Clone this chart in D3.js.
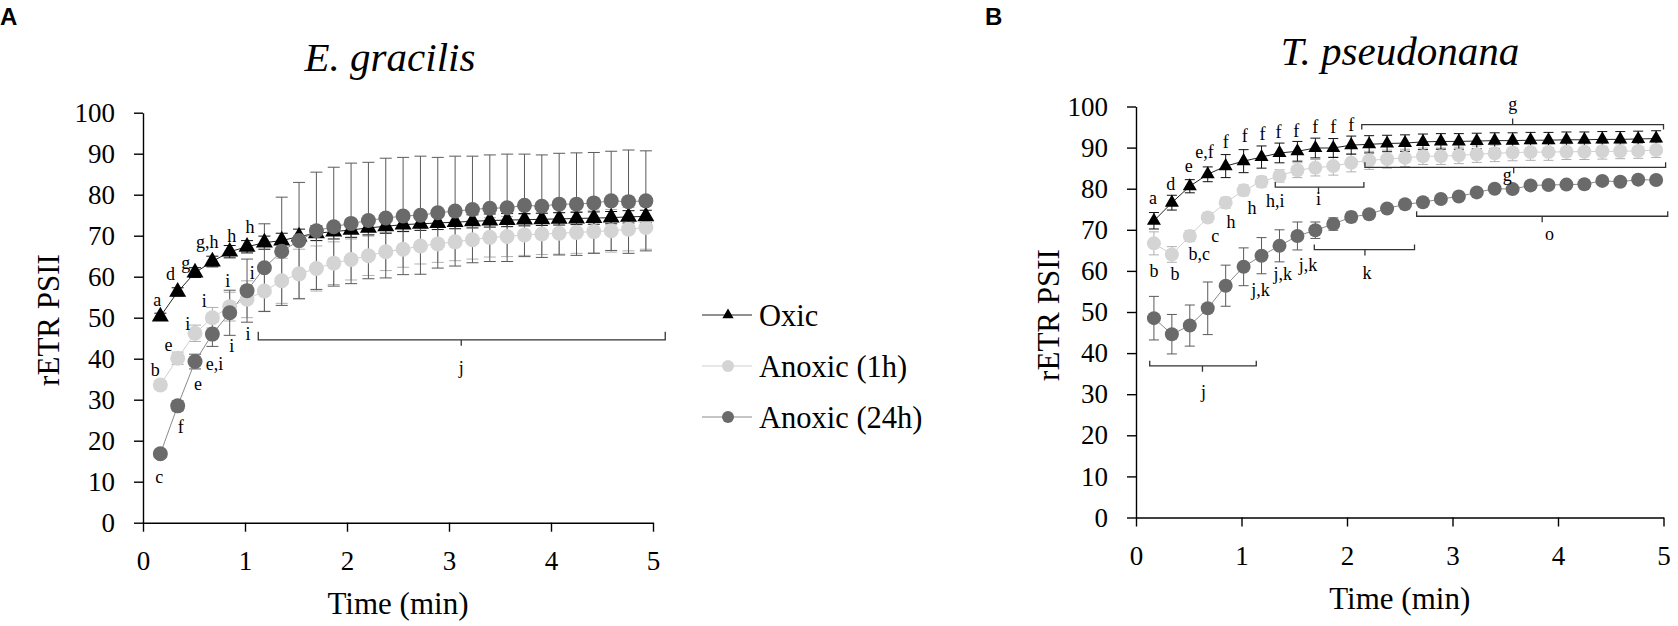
<!DOCTYPE html>
<html lang="en">
<head>
<meta charset="UTF-8">
<title>rETR PSII under oxic and anoxic conditions</title>
<style>
    body { margin: 0; background: #fff; }
    svg { display: block; font-family: "Liberation Serif", "Times New Roman", serif; }
</style>
</head>
<body>
<svg width="1678" height="626"></svg>

<script src="https://cdn.jsdelivr.net/npm/d3@7"></script>
<script>
    // sampling times (min), same for both panels
    const time = [0.17, 0.34, 0.51, 0.68, 0.85, 1.02, 1.19, 1.36, 1.53, 1.70, 1.87, 2.04, 2.21, 2.38, 2.55,
                  2.72, 2.89, 3.06, 3.23, 3.40, 3.57, 3.74, 3.91, 4.08, 4.25, 4.42, 4.59, 4.76, 4.93];
    const xTicks = [0, 1, 2, 3, 4, 5];
    const yTicks = [0, 10, 20, 30, 40, 50, 60, 70, 80, 90, 100];
    const seriesNames = ["Oxic", "Anoxic (1h)", "Anoxic (24h)"];

    // A - E. gracilis
    const oxicA = [50.3, 56.3, 61.0, 63.7, 66.1, 67.3, 68.3, 68.8, 69.8, 70.6, 71.0, 71.4, 71.9, 72.3, 72.7,
                   72.9, 73.1, 73.3, 73.5, 73.7, 73.8, 73.9, 74.0, 74.1, 74.2, 74.3, 74.4, 74.6, 74.7];
    const oxicAErr = [0.8, 1.0, 1.2, 1.3, 1.5, 1.5, 1.6, 1.8, 1.8, 1.8, 1.8, 1.8, 1.7, 1.7, 1.7,
                      1.6, 1.6, 1.6, 1.6, 1.6, 1.6, 1.5, 1.5, 1.5, 1.5, 1.5, 1.5, 1.5, 1.5];
    const anox1A = [33.6, 40.1, 46.2, 50.0, 52.7, 54.5, 56.5, 59.0, 60.7, 62.0, 63.3, 64.2, 65.1, 66.1, 66.7,
                    67.5, 68.0, 68.5, 69.0, 69.6, 69.8, 70.2, 70.4, 70.6, 70.8, 71.0, 71.2, 71.6, 72.0];
    const anox1AErr = [1.0, 1.5, 2.0, 2.5, 3.5, 4.5, 4.9, 5.5, 6.0, 5.5, 5.2, 5.0, 4.8, 4.6, 4.4,
                       4.4, 4.5, 4.6, 4.7, 4.8, 4.9, 5.0, 5.0, 5.1, 5.1, 5.2, 5.2, 5.3, 5.3];
    const anox24A = [16.8, 28.5, 39.3, 46.0, 51.2, 56.6, 62.2, 66.2, 68.8, 71.2, 72.2, 73.0, 73.7, 74.3, 74.8,
                     75.0, 75.6, 76.0, 76.4, 76.7, 76.8, 77.4, 77.2, 77.7, 77.7, 78.0, 78.5, 78.3, 78.5];
    const anox24AErr = [0.8, 1.2, 1.8, 3.0, 5.5, 7.7, 10.7, 13.2, 14.2, 14.3, 14.5, 14.7, 14.2, 14.6, 14.3,
                        14.4, 13.5, 13.4, 13.0, 13.0, 13.1, 12.5, 12.5, 12.4, 12.5, 12.3, 12.1, 12.6, 12.2];

    // B - T. pseudonana
    const oxicB = [72.2, 76.6, 80.6, 83.5, 85.5, 86.7, 87.7, 88.7, 89.1, 89.9, 89.9, 90.6, 90.8, 91.0, 91.1,
                   91.4, 91.5, 91.5, 91.6, 91.7, 91.7, 91.8, 91.8, 91.9, 91.9, 92.0, 92.0, 92.1, 92.2];
    const oxicBErr = [2.0, 1.8, 1.6, 1.8, 2.8, 2.8, 2.7, 2.4, 2.4, 2.4, 2.3, 2.2, 2.1, 2.0, 2.0,
                      1.9, 1.9, 1.9, 1.9, 1.9, 1.9, 1.9, 1.9, 1.9, 1.9, 1.9, 1.9, 1.9, 1.9];
    const anox1B = [66.7, 64.0, 68.5, 73.0, 76.6, 79.6, 81.7, 83.1, 84.5, 85.1, 85.5, 86.3, 86.9, 87.2, 87.5,
                    87.9, 87.9, 88.1, 88.4, 88.6, 88.8, 88.9, 88.9, 89.0, 89.0, 89.1, 89.1, 89.2, 89.4];
    const anox1BErr = [2.8, 1.9, 1.3, 1.2, 1.3, 1.3, 1.3, 1.5, 1.8, 2.0, 2.2, 2.2, 2.2, 2.2, 2.1,
                       2.0, 2.0, 2.0, 2.0, 2.0, 2.0, 2.0, 2.0, 1.9, 1.9, 1.9, 1.8, 1.8, 1.8];
    const anox24B = [48.5, 44.6, 46.7, 50.9, 56.4, 61.0, 63.7, 66.1, 68.5, 69.9, 71.4, 73.1, 73.8, 75.2, 76.2,
                     76.7, 77.5, 78.1, 79.1, 80.0, 79.9, 80.8, 80.9, 81.0, 81.1, 81.9, 81.7, 82.2, 82.1];
    const anox24BErr = [5.3, 4.8, 5.0, 6.4, 5.0, 4.6, 4.4, 3.9, 3.4, 2.0, 1.5, 1.2, 1.0, 0.8, 0.8,
                        0.8, 0.8, 0.8, 0.8, 0.8, 0.8, 0.8, 0.8, 0.8, 0.8, 0.8, 0.8, 0.8, 0.8];

    // significance letters: [time, value, text]
    const lettersA = [
        [0.14, 54.3, "a"], [0.27, 60.7, "d"], [0.42, 63.4, "g"], [0.63, 68.5, "g,h"], [0.87, 70.0, "h"],
        [1.05, 72.2, "h"], [1.07, 61.0, "i"], [0.83, 59.0, "i"], [0.60, 54.1, "i"], [0.44, 48.6, "i"],
        [0.25, 43.3, "e"], [0.12, 37.2, "b"], [0.70, 38.9, "e,i"], [0.54, 33.8, "e"], [0.37, 23.3, "f"],
        [0.16, 11.2, "c"], [0.87, 43.1, "i"], [1.03, 46.0, "i"]
    ];
    const lettersB = [
        [0.16, 77.8, "a"], [0.33, 81.2, "d"], [0.50, 85.7, "e"], [0.65, 89.1, "e,f"], [0.85, 91.5, "f"],
        [1.03, 93.0, "f"], [1.20, 93.5, "f"], [1.35, 93.8, "f"], [1.52, 94.2, "f"], [1.70, 95.1, "f"],
        [1.87, 95.1, "f"], [2.04, 95.6, "f"], [1.32, 77.2, "h,i"], [1.10, 75.4, "h"], [0.90, 71.9, "h"],
        [0.75, 68.5, "c"], [0.60, 64.3, "b,c"], [0.17, 60.0, "b"], [0.37, 59.3, "b"], [1.18, 55.5, "j,k"],
        [1.39, 59.3, "j,k"], [1.63, 61.4, "j,k"]
    ];
    // brackets: [from, to, value, middle, label, labelTime, labelValue, ends (1 = up, -1 = down)]
    const bracketsA = [
        [1.13, 5.12, 44.6, 3.12, "j", 3.12, 37.7, 1]
    ];
    const bracketsB = [
        [2.14, 5.00, 95.6, 3.57, "g", 3.57, 100.7, -1],
        [2.17, 5.02, 85.2, 3.58, "g", 3.52, 83.5, 1],
        [1.32, 2.16, 80.4, 1.73, "i", 1.73, 77.6, 1],
        [1.69, 2.64, 65.2, 2.17, "k", 2.19, 59.6, 1],
        [2.66, 5.04, 73.3, 3.85, "o", 3.92, 69.1, 1],
        [0.13, 1.14, 36.9, 0.63, "j", 0.64, 30.6, 1]
    ];

    const colors = {oxic: "#000000", anox1: "#d4d4d4", anox24: "#6a6a6a"};
    const lineColors = {oxic: "#222222", anox1: "#cfcfcf", anox24: "#8a8a8a"};
    const barColors = {oxic: "#111111", anox1: "#b0b0b0", anox24: "#5a5a5a"};
    const serif = "'Liberation Serif', 'Times New Roman', serif";

    const svg = d3.select("svg");

    const panels = [
        {
            tag: "A", tagX: 0, title: "E. gracilis", titleX: 390, titleY: 71,
            left: 143, right: 653, top: 112.7, bottom: 522.7, ylabX: 48, ylabY: 320,
            tri: 125, r: 7.5, cap: 6,
            series: [
                {key: "anox1", v: anox1A, e: anox1AErr},
                {key: "oxic", v: oxicA, e: oxicAErr},
                {key: "anox24", v: anox24A, e: anox24AErr}
            ],
            letters: lettersA, brackets: bracketsA, bh: 8
        },
        {
            tag: "B", tagX: 985, title: "T. pseudonana", titleX: 1400, titleY: 65,
            left: 1136, right: 1663.5, top: 106.5, bottom: 517.5, ylabX: 1048, ylabY: 315,
            tri: 85, r: 7, cap: 5,
            series: [
                {key: "anox1", v: anox1B, e: anox1BErr},
                {key: "oxic", v: oxicB, e: oxicBErr},
                {key: "anox24", v: anox24B, e: anox24BErr}
            ],
            letters: lettersB, brackets: bracketsB, bh: 5
        }
    ];

    panels.forEach(p => {
        const x = d3.scaleLinear().domain([0, 5]).range([p.left, p.right]);
        const y = d3.scaleLinear().domain([0, 100]).range([p.bottom, p.top]);
        const g = svg.append("g");

        // panel tag and title
        g.append("text")
            .attr("x", p.tagX).attr("y", 25)
            .style("font-family", "'Liberation Sans', Arial, sans-serif")
            .style("font-weight", "bold").style("font-size", "24px")
            .text(p.tag);
        g.append("text")
            .attr("x", p.titleX).attr("y", p.titleY)
            .attr("text-anchor", "middle")
            .style("font-style", "italic").style("font-size", "41px")
            .text(p.title);

        // axes
        const yAxis = g.append("g")
            .attr("transform", `translate(${p.left},0)`)
            .call(d3.axisLeft(y).tickValues(yTicks).tickFormat(d3.format("d"))
                .tickSize(9).tickSizeOuter(0).tickPadding(19));
        const xAxis = g.append("g")
            .attr("transform", `translate(0,${p.bottom})`)
            .call(d3.axisBottom(x).tickValues(xTicks).tickFormat(d3.format("d"))
                .tickSize(9).tickSizeOuter(0).tickPadding(19));
        [yAxis, xAxis].forEach(a => {
            a.attr("font-family", serif).attr("font-size", 27);
            a.selectAll("text")
                .style("font-family", serif)
                .style("font-size", "27px")
                .attr("fill", "#000");
            a.selectAll("line, path").attr("stroke", "#000").attr("stroke-width", 1.4);
        });

        g.append("text")
            .attr("transform", `translate(${p.ylabX},${p.ylabY}) rotate(-90)`)
            .attr("text-anchor", "middle").attr("dy", "0.35em")
            .style("font-size", "31px")
            .text("rETR PSII");
        g.append("text")
            .attr("x", (p.left + p.right) / 2).attr("y", p.bottom + 91)
            .attr("text-anchor", "middle")
            .style("font-size", "31px")
            .text("Time (min)");

        // error bars
        p.series.forEach(s => {
            const eb = g.append("g")
                .attr("stroke", barColors[s.key])
                .attr("stroke-width", 1)
                .selectAll("g")
                .data(time.map((t, i) => ({t, v: s.v[i], e: s.e[i]})))
                .join("g");
            eb.append("line")
                .attr("x1", d => x(d.t)).attr("x2", d => x(d.t))
                .attr("y1", d => y(d.v - d.e)).attr("y2", d => y(d.v + d.e));
            eb.append("line")
                .attr("x1", d => x(d.t) - p.cap).attr("x2", d => x(d.t) + p.cap)
                .attr("y1", d => y(d.v + d.e)).attr("y2", d => y(d.v + d.e));
            eb.append("line")
                .attr("x1", d => x(d.t) - p.cap).attr("x2", d => x(d.t) + p.cap)
                .attr("y1", d => y(d.v - d.e)).attr("y2", d => y(d.v - d.e));
        });

        // lines and markers
        const line = d3.line().x((d, i) => x(time[i])).y(d => y(d));
        p.series.forEach(s => {
            g.append("path")
                .datum(s.v)
                .attr("fill", "none")
                .attr("stroke", lineColors[s.key])
                .attr("stroke-width", 1)
                .attr("d", line);
        });
        p.series.forEach(s => {
            const m = g.append("g").attr("fill", colors[s.key]);
            if (s.key === "oxic") {
                m.selectAll("path")
                    .data(s.v)
                    .join("path")
                    .attr("transform", (d, i) => `translate(${x(time[i])},${y(d)})`)
                    .attr("d", d3.symbol().type(d3.symbolTriangle).size(p.tri));
            } else {
                m.selectAll("circle")
                    .data(s.v)
                    .join("circle")
                    .attr("cx", (d, i) => x(time[i]))
                    .attr("cy", d => y(d))
                    .attr("r", p.r);
            }
        });

        // significance letters
        g.append("g")
            .attr("text-anchor", "middle")
            .style("font-size", "18px")
            .selectAll("text")
            .data(p.letters)
            .join("text")
            .attr("x", d => x(d[0]))
            .attr("y", d => y(d[1]))
            .attr("dy", "0.35em")
            .text(d => d[2]);

        // brackets
        const br = g.append("g").selectAll("g").data(p.brackets).join("g");
        br.append("path")
            .attr("fill", "none")
            .attr("stroke", "#333")
            .attr("stroke-width", 1.3)
            .attr("d", d => {
                const yy = y(d[2]), h = p.bh * d[7];
                return `M${x(d[0])},${yy - h}L${x(d[0])},${yy}L${x(d[1])},${yy}L${x(d[1])},${yy - h}` +
                    `M${x(d[3])},${yy}L${x(d[3])},${yy + 6 * d[7]}`;
            });
        br.append("text")
            .attr("x", d => x(d[5]))
            .attr("y", d => y(d[6]))
            .attr("dy", "0.35em")
            .attr("text-anchor", "middle")
            .style("font-size", "18px")
            .text(d => d[4]);
    });

    // legend (panel A)
    const legendKeys = ["oxic", "anox1", "anox24"];
    const legendY = d3.scalePoint().domain(seriesNames).range([315, 417]);
    const lg = svg.append("g")
        .selectAll("g")
        .data(seriesNames)
        .join("g")
        .attr("transform", d => `translate(0,${legendY(d)})`);
    lg.append("line")
        .attr("x1", 702).attr("x2", 752)
        .attr("stroke", (d, i) => lineColors[legendKeys[i]])
        .attr("stroke-width", 1);
    lg.each(function (d, i) {
        const k = legendKeys[i];
        if (k === "oxic") {
            d3.select(this).append("path")
                .attr("transform", "translate(728,0)")
                .attr("fill", colors[k])
                .attr("d", d3.symbol().type(d3.symbolTriangle).size(55));
        } else {
            d3.select(this).append("circle")
                .attr("cx", 728).attr("r", 6)
                .attr("fill", colors[k]);
        }
    });
    lg.append("text")
        .attr("x", 759).attr("dy", "0.35em")
        .style("font-size", "30.5px")
        .text(d => d);
</script>
</body>
</html>
